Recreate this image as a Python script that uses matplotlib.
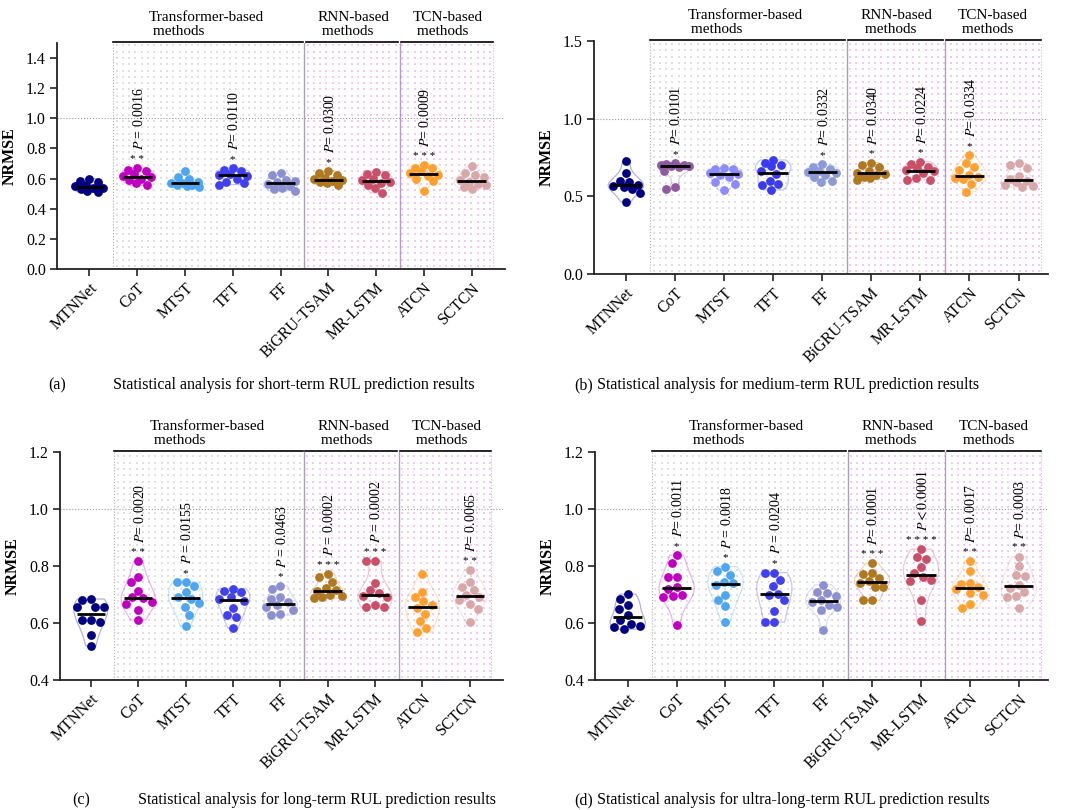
import numpy as np
import matplotlib.pyplot as plt
from matplotlib.colors import to_rgba
import matplotlib.transforms as mtransforms

plt.rcParams['font.family'] = ['Liberation Serif', 'DejaVu Serif']
plt.rcParams['mathtext.fontset'] = 'stix'

methods = ['MTNNet', 'CoT', 'MTST', 'TFT', 'FF', 'BiGRU-TSAM', 'MR-LSTM', 'ATCN', 'SCTCN']

# NRMSE of the 10 runs per method
short_term = [
    [0.600, 0.585, 0.575, 0.560, 0.548, 0.538, 0.535, 0.530, 0.520, 0.510],
    [0.671, 0.660, 0.649, 0.630, 0.618, 0.608, 0.600, 0.590, 0.570, 0.555],
    [0.650, 0.610, 0.595, 0.575, 0.570, 0.568, 0.560, 0.555, 0.550, 0.545],
    [0.670, 0.655, 0.648, 0.630, 0.625, 0.619, 0.600, 0.575, 0.570, 0.560],
    [0.638, 0.625, 0.590, 0.585, 0.575, 0.563, 0.550, 0.540, 0.530, 0.518],
    [0.650, 0.640, 0.625, 0.605, 0.598, 0.588, 0.583, 0.575, 0.568, 0.560],
    [0.642, 0.633, 0.625, 0.600, 0.590, 0.578, 0.570, 0.560, 0.540, 0.505],
    [0.690, 0.672, 0.668, 0.650, 0.640, 0.626, 0.620, 0.600, 0.582, 0.520],
    [0.682, 0.640, 0.625, 0.610, 0.590, 0.578, 0.565, 0.555, 0.545, 0.530],
]
medium_term = [
    [0.725, 0.648, 0.600, 0.590, 0.575, 0.567, 0.560, 0.550, 0.520, 0.465],
    [0.715, 0.705, 0.702, 0.700, 0.698, 0.696, 0.690, 0.660, 0.560, 0.545],
    [0.680, 0.678, 0.675, 0.650, 0.645, 0.640, 0.625, 0.590, 0.580, 0.541],
    [0.734, 0.712, 0.700, 0.695, 0.660, 0.645, 0.600, 0.580, 0.573, 0.541],
    [0.705, 0.690, 0.675, 0.665, 0.658, 0.650, 0.640, 0.625, 0.600, 0.595],
    [0.717, 0.700, 0.688, 0.665, 0.652, 0.645, 0.635, 0.625, 0.615, 0.608],
    [0.723, 0.710, 0.690, 0.680, 0.668, 0.662, 0.650, 0.615, 0.608, 0.605],
    [0.766, 0.712, 0.690, 0.670, 0.640, 0.626, 0.620, 0.610, 0.580, 0.530],
    [0.712, 0.700, 0.680, 0.630, 0.610, 0.600, 0.590, 0.575, 0.565, 0.560],
]
long_term = [
    [0.684, 0.682, 0.656, 0.656, 0.656, 0.609, 0.609, 0.602, 0.557, 0.520],
    [0.816, 0.761, 0.743, 0.713, 0.690, 0.686, 0.675, 0.665, 0.644, 0.611],
    [0.743, 0.743, 0.731, 0.710, 0.692, 0.683, 0.670, 0.657, 0.628, 0.590],
    [0.721, 0.712, 0.708, 0.690, 0.684, 0.678, 0.652, 0.628, 0.622, 0.581],
    [0.731, 0.719, 0.690, 0.684, 0.672, 0.662, 0.657, 0.646, 0.630, 0.628],
    [0.773, 0.760, 0.745, 0.722, 0.716, 0.712, 0.700, 0.693, 0.690, 0.688],
    [0.818, 0.816, 0.740, 0.715, 0.705, 0.695, 0.690, 0.662, 0.656, 0.655],
    [0.772, 0.708, 0.690, 0.676, 0.662, 0.652, 0.633, 0.606, 0.582, 0.568],
    [0.785, 0.745, 0.728, 0.717, 0.700, 0.690, 0.680, 0.665, 0.650, 0.602],
]
ultra_term = [
    [0.701, 0.683, 0.664, 0.650, 0.628, 0.612, 0.598, 0.590, 0.587, 0.578],
    [0.838, 0.810, 0.763, 0.760, 0.725, 0.718, 0.700, 0.693, 0.690, 0.593],
    [0.798, 0.781, 0.770, 0.745, 0.740, 0.732, 0.700, 0.681, 0.660, 0.605],
    [0.777, 0.775, 0.751, 0.730, 0.703, 0.700, 0.681, 0.642, 0.605, 0.603],
    [0.734, 0.710, 0.705, 0.695, 0.681, 0.675, 0.662, 0.655, 0.646, 0.576],
    [0.810, 0.777, 0.772, 0.757, 0.748, 0.742, 0.728, 0.725, 0.681, 0.679],
    [0.859, 0.830, 0.826, 0.798, 0.775, 0.763, 0.752, 0.746, 0.681, 0.608],
    [0.818, 0.781, 0.740, 0.738, 0.728, 0.720, 0.705, 0.700, 0.667, 0.652],
    [0.833, 0.800, 0.770, 0.765, 0.735, 0.722, 0.710, 0.693, 0.690, 0.652],
]

# significance vs MTNNet: index -> (stars, p label)
short_sig = {1: ('* *', r'$P$ = 0.0016'), 3: ('*', r'$P$= 0.0110'),
             5: ('*', r'$P$= 0.0300'), 7: ('* * *', r'$P$= 0.0009')}
medium_sig = {1: ('*', r'$P$= 0.0101'), 4: ('*', r'$P$= 0.0332'),
              5: ('*', r'$P$= 0.0340'), 6: ('*', r'$P$= 0.0224'),
              7: ('*', r'$P$= 0.0334')}
long_sig = {1: ('* *', r'$P$= 0.0020'), 2: ('*', r'$P$ = 0.0155'),
            4: ('*', r'$P$ = 0.0463'), 5: ('* * *', r'$P$ = 0.0002'),
            6: ('* * *', r'$P$ = 0.0002'), 8: ('* *', r'$P$= 0.0065')}
ultra_sig = {1: ('*', r'$P$= 0.0011'), 2: ('*', r'$P$ = 0.0018'),
             3: ('*', r'$P$ = 0.0204'), 5: ('* * *', r'$P$= 0.0001'),
             6: ('* * * *', r'$\mathit{P<0.0001}$'), 7: ('* *', r'$P$= 0.0017'),
             8: ('* *', r'$P$= 0.0003')}

colors = ['#000080', '#C000C0', '#4EA6F0', '#4040EE', '#8C90D0',
          '#B07820', '#C85068', '#FFA030', '#D8A8A8']
colors_b = ['#000080', '#8E5AA0', '#8C8CFF', '#3A3AEE', '#8C9AD8',
            '#B07820', '#C85068', '#FFA030', '#D8A8A8']

groups = [('Transformer-based\n methods', 1.25, 0.5, 4.47),
          ('RNN-based\n methods', 4.78, 4.53, 6.47),
          ('TCN-based\n methods', 6.77, 6.53, 8.45)]

W, H = 1080, 810
# (data, colours, sig, pixel box l,r,t,b, xlim, ylim, yticks, caption letter/text/pos)
panels = [
    (short_term, colors, short_sig, (57, 505, 43, 269), (-0.68, 8.7), (0, 1.5),
     np.arange(0, 1.41, 0.2),
     ('(a)', 48, 'Statistical analysis for short-term RUL prediction results', 113, 385)),
    (medium_term, colors_b, medium_sig, (594, 1048, 41, 274), (-0.65, 8.6), (0, 1.5),
     np.arange(0, 1.51, 0.5),
     ('(b)', 574, 'Statistical analysis for medium-term RUL prediction results', 597, 385)),
    (long_term, colors, long_sig, (60, 503, 452, 680), (-0.65, 8.7), (0.4, 1.2),
     np.arange(0.4, 1.21, 0.2),
     ('(c)', 72, 'Statistical analysis for long-term RUL prediction results', 138, 800)),
    (ultra_term, colors, ultra_sig, (595, 1048, 452, 680), (-0.67, 8.6), (0.4, 1.2),
     np.arange(0.4, 1.21, 0.2),
     ('(d)', 574, 'Statistical analysis for ultra-long-term RUL prediction results', 597, 800)),
]


def swarm(vals, sx, sy, dist, maxw):
    # beeswarm limited to +-maxw pixels, returns x offsets in data units
    ypx = np.asarray(vals) * sy
    cands = np.arange(-maxw, maxw + 0.1, 0.5)
    cands = cands[np.argsort(np.abs(cands), kind='stable')]
    px_list, py_list = [], []
    off = np.zeros(len(vals))
    for i in np.argsort(-ypx):
        if px_list:
            P = np.array(px_list)
            Q = np.array(py_list)
            md = np.sqrt((cands[:, None] - P[None, :]) ** 2 +
                         (ypx[i] - Q[None, :]) ** 2).min(axis=1)
            ok = np.where(md >= dist)[0]
            c = cands[ok[0]] if len(ok) else cands[np.argmax(md)]
        else:
            c = 0.0
        px_list.append(c)
        py_list.append(ypx[i])
        off[i] = c / sx
    return off


fig = plt.figure(figsize=(W / 100, H / 100), dpi=100)

for data, cols, sig, box, xlim, ylim, yticks, cap in panels:
    l, r, t, b = box
    ax = fig.add_axes([l / W, 1 - b / H, (r - l) / W, (b - t) / H])
    ax.set_xlim(*xlim)
    ax.set_ylim(*ylim)
    sx = (r - l) / (xlim[1] - xlim[0])
    sy = (b - t) / (ylim[1] - ylim[0])

    # dotted backgrounds of the method groups
    step = 6.3
    for x0, x1, dc in [(0.5, 4.5, '#e0e0e0'), (4.5, 8.45, '#f2c8f6')]:
        gx = np.arange(x0 + step / sx / 2, x1, step / sx)
        gy = np.arange(ylim[0] + step / sy / 2, ylim[1], step / sy)
        GX, GY = np.meshgrid(gx, gy)
        ax.scatter(GX.ravel(), GY.ravel(), s=0.9, marker='s', color=dc,
                   linewidths=0, zorder=0)
    ax.axvline(0.5, color='#aaaaaa', lw=0.8, ls=':', zorder=1)
    ax.axvline(4.5, color='#a8a0b4', lw=1.0, zorder=1)
    ax.axvline(6.5, color='#b89ac8', lw=1.0, zorder=1)
    ax.axvline(8.45, color='#e6a8ee', lw=0.8, ls=':', zorder=1)
    ax.axhline(1.0, color='#999999', lw=0.8, ls=':', zorder=1)

    for i, vals in enumerate(data):
        c = cols[i]
        vp = ax.violinplot(vals, positions=[i], widths=0.72, showextrema=False)
        for body in vp['bodies']:
            body.set_facecolor('none')
            body.set_edgecolor(to_rgba(c, 0.75))
            body.set_linewidth(0.9)
            body.set_zorder(2)
        xo = swarm(vals, sx, sy, 9.0, 14.0)
        ax.scatter(i + xo, vals, s=40, color=c, linewidths=0, zorder=3)
        med = np.median(vals)
        ax.plot([i - 0.3, i + 0.3], [med, med], color='black', lw=2, zorder=4,
                solid_capstyle='butt')
        if i in sig:
            stars, ptxt = sig[i]
            top = max(vals)
            ax.annotate(stars, (i, top), xytext=(0, 3), textcoords='offset points',
                        ha='center', va='bottom', fontsize=8)
            ax.annotate(ptxt, (i, top), xytext=(1, 13), textcoords='offset points',
                        ha='center', va='bottom', rotation=90, fontsize=10)

    # group brackets and labels above the axes
    trans = mtransforms.blended_transform_factory(ax.transData, ax.transAxes)
    for label, tx, g0, g1 in groups:
        ax.plot([g0, g1], [1.005, 1.005], color='black', lw=1.2, transform=trans,
                clip_on=False)
        ax.text(tx, 1.02, label, transform=trans, ha='left', va='bottom',
                fontsize=11, linespacing=1.15)

    ax.set_xticks(range(len(methods)))
    ax.set_xticklabels(methods, rotation=45, ha='right', va='top',
                       rotation_mode='anchor', fontsize=11.5)
    ax.set_yticks(yticks)
    ax.set_yticklabels(['%.1f' % v for v in yticks], fontsize=11.5)
    ax.set_ylabel('NRMSE', fontsize=11.5, fontweight='bold', labelpad=6)
    for s in ['top', 'right']:
        ax.spines[s].set_visible(False)
    for s in ['left', 'bottom']:
        ax.spines[s].set_linewidth(1.3)
        ax.spines[s].set_color('#222222')
    ax.tick_params(direction='out', length=5, width=1.2, color='#222222', pad=3)

    letter, lx, text, tx2, cy = cap
    fig.text(lx / W, 1 - cy / H, letter, fontsize=11.5, va='center', ha='left')
    fig.text(tx2 / W, 1 - cy / H, text, fontsize=11.5, va='center', ha='left')

fig.savefig('out.png', dpi=100)
